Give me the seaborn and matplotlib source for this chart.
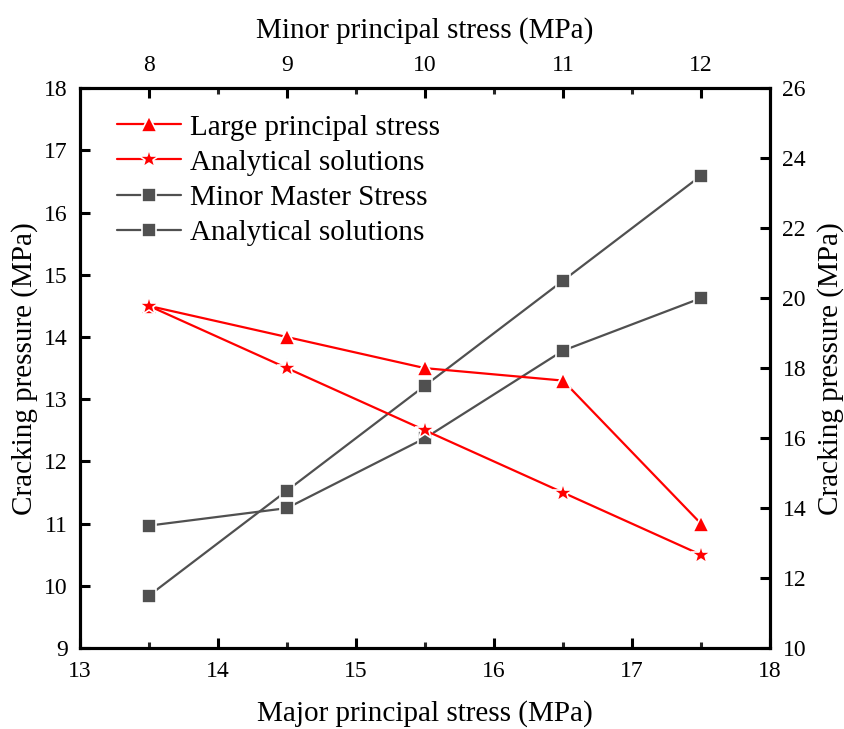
import matplotlib
matplotlib.use("Agg")
import matplotlib.pyplot as plt
import seaborn as sns
import pandas as pd

# Major principal stress (bottom axis) and cracking pressure on left axis
major_stress = [13.5, 14.5, 15.5, 16.5, 17.5]
large_principal = [14.5, 14.0, 13.5, 13.3, 11.0]
large_analytical = [14.5, 13.5, 12.5, 11.5, 10.5]

# Minor principal stress (top axis) and cracking pressure on right axis
minor_stress = [8, 9, 10, 11, 12]
minor_master = [13.5, 14.0, 16.0, 18.5, 20.0]
minor_analytical = [11.5, 14.5, 17.5, 20.5, 23.5]

bottom_ticks = [13, 14, 15, 16, 17, 18]
left_ticks = [9, 10, 11, 12, 13, 14, 15, 16, 17, 18]
top_ticks = [8, 9, 10, 11, 12]
right_ticks = [10, 12, 14, 16, 18, 20, 22, 24, 26]

sns.set_theme(style="white")
plt.rcParams["font.family"] = ["Liberation Serif", "DejaVu Serif"]
plt.rcParams["text.color"] = "black"
plt.rcParams["axes.labelcolor"] = "black"

RED = "#FF0000"
GREY = "#505050"
TICK_FS = 17
LABEL_FS = 21

fig = plt.figure(figsize=(8.45, 7.29), dpi=100)
ax = fig.add_axes([0.0947, 0.111, 0.8165, 0.768])
ax_r = ax.twinx()
ax_t = ax_r.twiny()

df_major = pd.DataFrame({"x": major_stress, "lp": large_principal, "la": large_analytical})
df_minor = pd.DataFrame({"x": minor_stress, "mm": minor_master, "ma": minor_analytical})

line_kw = dict(linewidth=1.6, markeredgecolor="white", markeredgewidth=1.2)

sns.lineplot(data=df_minor, x="x", y="mm", ax=ax_t, color=GREY, marker="s",
             markersize=10, label="Minor Master Stress", **line_kw)
sns.lineplot(data=df_minor, x="x", y="ma", ax=ax_t, color=GREY, marker="s",
             markersize=10, label="Analytical solutions", **line_kw)
sns.lineplot(data=df_major, x="x", y="lp", ax=ax, color=RED, marker="^",
             markersize=12, label="Large principal stress", **line_kw)
sns.lineplot(data=df_major, x="x", y="la", ax=ax, color=RED, marker="*",
             markersize=15, label="Analytical solutions", **line_kw)

# Draw the red series above the grey ones
ax.set_zorder(ax_t.get_zorder() + 2)
ax.patch.set_visible(False)

ax.set_xlim(13, 18)
ax.set_ylim(9, 18)
ax_r.set_ylim(10, 26)
ax_t.set_xlim(7.5, 12.5)

ax.set_xticks(bottom_ticks)
ax.set_xticks([13.5, 14.5, 15.5, 16.5, 17.5], minor=True)
ax.set_yticks(left_ticks)
ax_r.set_yticks(right_ticks)
ax_t.set_xticks(top_ticks)
ax_t.set_xticks([8.5, 9.5, 10.5, 11.5], minor=True)

for a in (ax, ax_r, ax_t):
    for s in a.spines.values():
        s.set_linewidth(2.2)
        s.set_color("black")
    a.tick_params(which="major", direction="in", length=7, width=2.2,
                  labelsize=TICK_FS, pad=9, colors="black")
    a.tick_params(which="minor", direction="in", length=4, width=2.2)
    a.grid(False)

ax.tick_params(axis="x", which="both", bottom=True, top=False)
ax.tick_params(axis="y", left=True, right=False)
ax_r.tick_params(axis="y", left=False, right=True)
ax_t.tick_params(axis="x", which="both", top=True, bottom=False)
ax_t.tick_params(axis="y", left=False, right=False, labelleft=False, labelright=False)

ax.set_xlabel("Major principal stress (MPa)", fontsize=LABEL_FS, labelpad=13)
ax.set_ylabel("Cracking pressure (MPa)", fontsize=LABEL_FS, labelpad=4)
ax_r.set_ylabel("Cracking pressure (MPa)", fontsize=LABEL_FS, labelpad=8)
ax_t.set_xlabel("Minor principal stress (MPa)", fontsize=LABEL_FS, labelpad=12)
ax_t.set_ylabel("")

# Single legend collecting both axes
h1, l1 = ax.get_legend_handles_labels()
h2, l2 = ax_t.get_legend_handles_labels()
for a in (ax, ax_r, ax_t):
    if a.get_legend() is not None:
        a.get_legend().remove()
leg = ax.legend(h1 + h2, l1 + l2, loc="upper left", bbox_to_anchor=(0.028, 0.985),
                frameon=False, fontsize=21, handlelength=2.2, handletextpad=0.3,
                labelspacing=0.3, borderaxespad=0.2)
for t in leg.get_texts():
    t.set_color("black")

fig.savefig("out.png", dpi=100)
